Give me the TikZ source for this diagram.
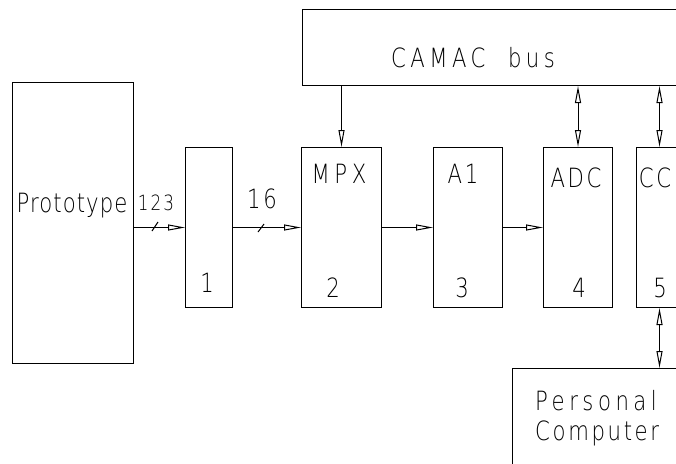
\documentclass[tikz,border=0pt]{standalone}
\usepackage{fontspec}
\newfontfamily\cadfont{DejaVu Sans ExtraLight}[FakeStretch=0.8,LetterSpace=10]
\newfontfamily\cadnarrow{DejaVu Sans ExtraLight}[FakeStretch=0.8,LetterSpace=4]
\newfontfamily\cadwide{DejaVu Sans ExtraLight}[FakeStretch=0.8,LetterSpace=17]
\usetikzlibrary{arrows.meta, calc}

\begin{document}
\begin{tikzpicture}[x=1pt, y=-1pt,
    boxstyle/.style={draw, line width=1pt, inner sep=0pt, anchor=north west},
    textstyle/.style={font=\cadfont\fontsize{26.5}{30}\selectfont, inner sep=0pt, anchor=base},
    linkstyle/.style={line width=1pt, -{Triangle[open, length=17pt, width=6pt]}},
    buslink/.style={line width=1pt, {Triangle[open, length=17pt, width=6pt]}-{Triangle[open, length=17pt, width=6pt]}},
    slashstyle/.style={line width=1pt}]
  \useasboundingbox (0,0) rectangle (676,463);
  \clip (0,0) rectangle (676,463);
  \node[boxstyle, minimum width=121pt, minimum height=281pt] (proto) at (12,82) {};
  \node[boxstyle, minimum width=47pt, minimum height=160pt] (b1) at (185,147) {};
  \node[boxstyle, minimum width=80pt, minimum height=160pt] (mpx) at (301,147) {};
  \node[boxstyle, minimum width=69pt, minimum height=160pt] (a1) at (433,147) {};
  \node[boxstyle, minimum width=69pt, minimum height=160pt] (adc) at (543,147) {};
  \node[boxstyle, minimum width=46pt, minimum height=160pt] (cc) at (636,147) {};
  \node[boxstyle, minimum width=420pt, minimum height=76pt] (camac) at (302,9) {};
  \node[boxstyle, minimum width=200pt, minimum height=120pt] (pc) at (512,368) {};
  \node[textstyle, font=\cadnarrow\fontsize{26.5}{30}\selectfont] (protoname) at (72,212) {Prototype};
  \node[textstyle, font=\cadfont\fontsize{21}{24}\selectfont] (n123) at (156,210) {123};
  \node[textstyle] (n16) at (262,208) {16};
  \node[textstyle] (b1num) at (207,292) {1};
  \node[textstyle, font=\cadwide\fontsize{26.5}{30}\selectfont] (mpxname) at (339,183) {MPX};
  \node[textstyle] (mpxnum) at (333,297) {2};
  \node[textstyle] (a1name) at (463,183) {A1};
  \node[textstyle] (a1num) at (462,297) {3};
  \node[textstyle] (adcname) at (576,187) {ADC};
  \node[textstyle] (adcnum) at (579,297) {4};
  \node[textstyle] (ccname) at (655,187) {CC};
  \node[textstyle] (ccnum) at (660,297) {5};
  \node[textstyle, font=\cadwide\fontsize{26.5}{30}\selectfont] (camacname) at (473,67) {CAMAC\ \ bus};
  \node[textstyle, anchor=base west, font=\cadwide\fontsize{26.5}{30}\selectfont] (pcname1) at (535,410) {Personal};
  \node[textstyle, anchor=base west] (pcname2) at (535,440) {Computer};
  \draw[linkstyle] (proto.east |- b1.west) -- (b1.west);
  \draw[linkstyle] (b1.east) -- (mpx.west);
  \draw[linkstyle] (mpx.east) -- (a1.west);
  \draw[linkstyle] (a1.east) -- (adc.west);
  \draw[linkstyle] (camac.south -| mpx.north) -- (mpx.north);
  \draw[buslink] (camac.south -| adc.north) -- (adc.north);
  \draw[buslink] (camac.south -| cc.north) -- (cc.north);
  \draw[buslink] (cc.south) -- (cc.south |- pc.north);
  \draw[slashstyle] (152,231) -- (158,222);
  \draw[slashstyle] (258,232) -- (264,224);
\end{tikzpicture}
\end{document}
